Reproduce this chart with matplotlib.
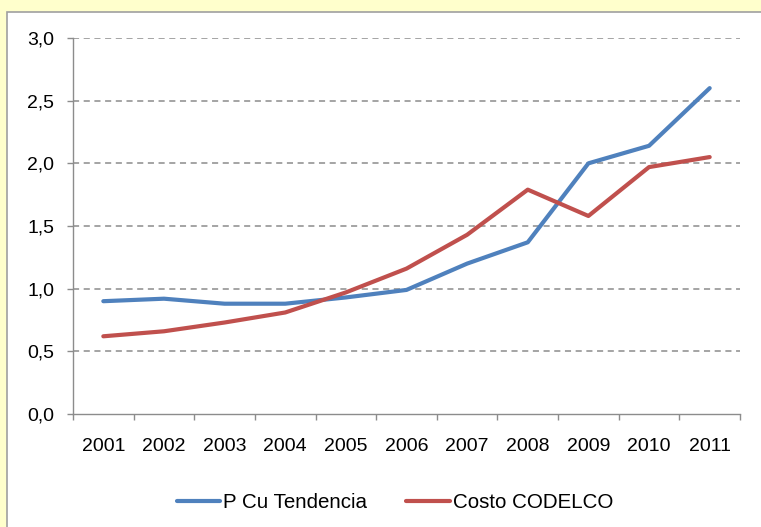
import matplotlib
matplotlib.use("Agg")
import matplotlib.pyplot as plt
from matplotlib.patches import Rectangle
from matplotlib.ticker import FuncFormatter, MultipleLocator

YEARS = ["2001", "2002", "2003", "2004", "2005", "2006",
         "2007", "2008", "2009", "2010", "2011"]
P_CU_TENDENCIA = [0.90, 0.92, 0.88, 0.88, 0.93, 0.99, 1.20, 1.37, 2.00, 2.14, 2.60]
COSTO_CODELCO = [0.62, 0.66, 0.73, 0.81, 0.97, 1.16, 1.43, 1.79, 1.58, 1.97, 2.05]

BLUE = "#4F81BD"
RED = "#C0504D"
GRAY = "#8C8C8C"
FS = 14

plt.rcParams["font.family"] = ["Liberation Sans", "DejaVu Sans"]

W, H = 761, 527
fig = plt.figure(figsize=(W / 100, H / 100), dpi=100)
fig.patch.set_facecolor("#FFFFCC")

# white chart panel on the yellow slide background
fig.patches.append(Rectangle((7 / W, -0.05), 1.2, (H - 12) / H + 0.05,
                             transform=fig.transFigure, facecolor="white",
                             edgecolor="#A0A0A0", linewidth=1.2, zorder=-10))

ax = fig.add_axes([73 / W, 1 - 414 / H, (740 - 73) / W, (414 - 38) / H])
ax.set_facecolor("none")

x = range(len(YEARS))
ax.plot(x, P_CU_TENDENCIA, color=BLUE, linewidth=3, label="P Cu Tendencia",
        solid_capstyle="round", solid_joinstyle="round")
ax.plot(x, COSTO_CODELCO, color=RED, linewidth=3, label="Costo CODELCO",
        solid_capstyle="round", solid_joinstyle="round")

ax.set_xlim(-0.5, len(YEARS) - 0.5)
ax.set_ylim(0, 3.0)
ax.yaxis.set_major_locator(MultipleLocator(0.5))
ax.yaxis.set_major_formatter(FuncFormatter(lambda v, p: f"{v:.1f}".replace(".", ",")))

ax.set_xticks(list(x))
ax.set_xticklabels(YEARS)
ax.set_xticks([i - 0.5 for i in range(len(YEARS) + 1)], minor=True)
ax.tick_params(axis="x", which="major", length=0, pad=17, labelsize=FS)
ax.tick_params(axis="x", which="minor", length=4.5, color=GRAY, width=1)
ax.tick_params(axis="y", length=4.5, color=GRAY, width=1, pad=9, labelsize=FS)

for v in [0.5, 1.0, 1.5, 2.0, 2.5, 3.0]:
    ax.axhline(v, color=GRAY, linewidth=1.1, linestyle=(0, (4, 3)), zorder=0)

for side in ["top", "right"]:
    ax.spines[side].set_visible(False)
for side in ["left", "bottom"]:
    ax.spines[side].set_color(GRAY)
    ax.spines[side].set_linewidth(1)

fig.legend(loc="center", bbox_to_anchor=(395 / W, 1 - 503 / H), ncol=2,
           frameon=False, fontsize=14.8, handlelength=2.1, handletextpad=0.15,
           columnspacing=1.9)

fig.savefig("out.png", dpi=100, facecolor=fig.get_facecolor())
